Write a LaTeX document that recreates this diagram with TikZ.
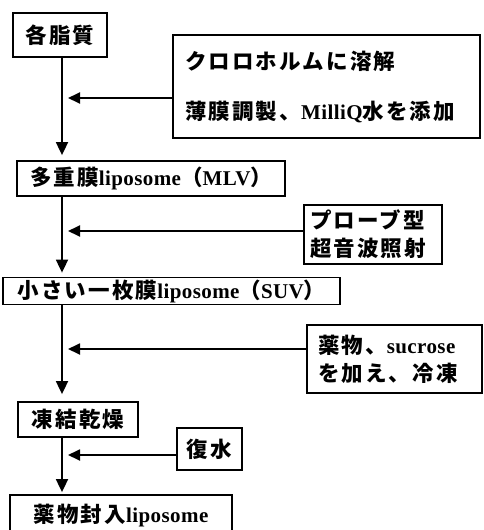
\documentclass[tikz,border=0pt]{standalone}
\usepackage{fontspec}
\setmainfont{Liberation Serif}
\newfontfamily\jp{Noto Sans CJK JP}[LetterSpace=10]
\newfontfamily\lt{Liberation Serif}[LetterSpace=2]
\newcommand\J[1]{{\jp\bfseries #1}}
\newcommand\E[1]{{\lt\bfseries\fontsize{21}{28}\selectfont #1}}
\usetikzlibrary{arrows.meta}
\begin{document}
\begin{tikzpicture}[x=1pt,y=-1pt,
  box/.style={draw, line width=1.8pt, inner sep=0pt, font=\fontsize{21.5}{28}\selectfont},
  arr/.style={line width=1.8pt, -{Triangle[length=13pt,width=12pt]}},
  harr/.style={line width=1.8pt, -{Triangle[length=12pt,width=11pt]}}]
\useasboundingbox (0,0) rectangle (484,530);
\coordinate (sp) at (62,0);
% main boxes
\node[box, minimum width=94pt, minimum height=44pt] (b1) at (60,35) {\J{各脂質}};
\node[box, minimum width=268pt, minimum height=35pt] (b2) at (151,178.5) {\J{多重膜}\E{liposome}\J{（}\E{MLV}\J{）}};
\node[box, minimum width=337pt, minimum height=27pt] (b3) at (171.5,291) {\J{小さい一枚膜}\E{liposome}\J{（}\E{SUV}\J{）}};
\node[box, minimum width=120pt, minimum height=35pt] (b4) at (78,419.5) {\J{凍結乾燥}};
\node[box, minimum width=222pt, minimum height=42pt] (b5) at (121,516) {\J{薬物封入}\E{liposome}};
% side boxes
\node[box, minimum width=307pt, minimum height=103pt, text width=283pt, align=left, font=\fontsize{21.5}{50}\selectfont] (s1) at (326.5,86.5)
  {\J{クロロホルムに溶解}\\\J{薄膜調製、}\E{MilliQ}\J{水を添加}};
\node[box, minimum width=138pt, minimum height=59pt, text width=126pt, align=left] (s2) at (373,234.5)
  {\J{プローブ型}\\\J{超音波照射}};
\node[box, minimum width=175pt, minimum height=68pt, text width=153pt, align=left] (s3) at (394.5,359)
  {\J{薬物、}\E{sucrose}\\\J{を加え、冷凍}};
\node[box, minimum width=65pt, minimum height=42pt] (s4) at (209.5,449) {\J{復水}};
% tips of horizontal arrows
\coordinate (h1) at (68,98);
\coordinate (h2) at (68,231);
\coordinate (h3) at (68,349);
\coordinate (h4) at (68,455);
% vertical connectors
\draw[arr, shorten >=5pt] (b1.south -| sp) -- (b2.north -| sp);
\draw[arr, shorten >=4pt] (b2.south -| sp) -- (b3.north -| sp);
\draw[arr, shorten >=7pt] (b3.south -| sp) -- (b4.north -| sp);
\draw[arr, shorten >=2pt] (b4.south -| sp) -- (b5.north -| sp);
% horizontal connectors
\draw[harr] (s1.west |- h1) -- (h1);
\draw[harr] (s2.west |- h2) -- (h2);
\draw[harr] (s3.west |- h3) -- (h3);
\draw[harr] (s4.west |- h4) -- (h4);
\end{tikzpicture}
\end{document}
